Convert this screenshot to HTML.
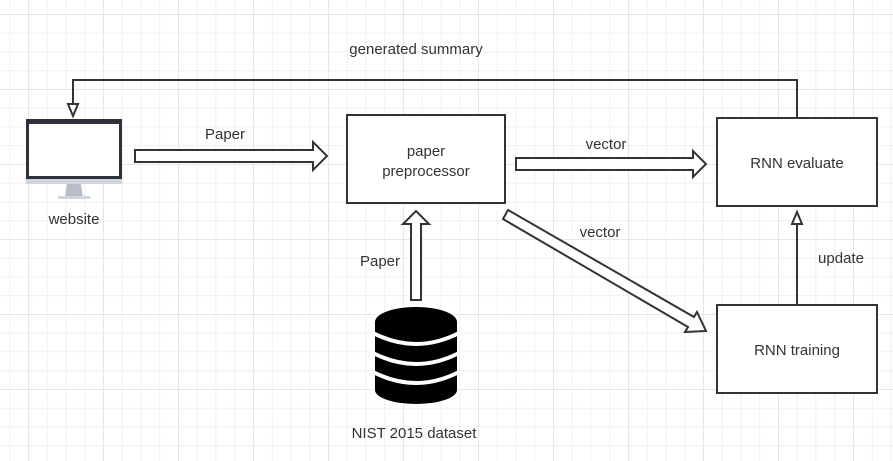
<!DOCTYPE html>
<html><head><style>
body{margin:0;width:893px;height:461px;overflow:hidden;background:#fff;}
svg{display:block;font-family:"Liberation Sans","Noto Sans CJK SC",sans-serif;}
</style></head><body>
<svg width="893" height="461" viewBox="0 0 893 461" xmlns="http://www.w3.org/2000/svg">
<defs>
<pattern id="g" x="9.3" y="14" width="18.75" height="18.75" patternUnits="userSpaceOnUse">
<path d="M0 0V18.75M0 0H18.75" stroke="#ebebeb" stroke-width="1.5" fill="none"/>
</pattern>
<pattern id="G" x="28" y="14" width="75" height="75" patternUnits="userSpaceOnUse">
<path d="M0 0V75M0 0H75" stroke="#e2e2e2" stroke-width="1.5" fill="none"/>
</pattern>
</defs>
<rect width="893" height="461" fill="url(#g)"/>
<rect width="893" height="461" fill="url(#G)"/>
<g fill="#fff" stroke="#333" stroke-width="2">
<rect x="347" y="115" width="158" height="88"/>
<rect x="717" y="118" width="160" height="88"/>
<rect x="717" y="305" width="160" height="88"/>
<path d="M135 150H313V142L327 156L313 170V162H135Z"/>
<path d="M516 158H693V151L706 164L693 177V170H516Z"/>
<path d="M411 300V224H403L416 211L429 224H421V300Z"/>
<path d="M508 210L694 317L697 312L706 331L685 332L688 327L503 219Z"/>
</g>
<g fill="none" stroke="#333" stroke-width="2">
<path d="M797 118V80H73V108"/>
<path d="M797 305V222"/>
</g>
<path d="M68 104H78L73 116Z" fill="#fff" stroke="#333" stroke-width="2"/>
<path d="M792 224H802L797 212Z" fill="#fff" stroke="#333" stroke-width="2"/>
<!-- monitor -->
<rect x="26" y="119" width="96" height="60" fill="#2e3138"/>
<rect x="29" y="124" width="90" height="52" fill="#fff"/>
<rect x="26" y="179" width="96" height="5" fill="#cfd5de"/>
<path d="M67 184H81L83 197H65Z" fill="#b8bec7"/>
<rect x="58" y="196" width="32" height="3" fill="#cfd5de"/>
<!-- database -->
<path d="M375 322A41 15 0 0 1 457 322V390A41 14 0 0 1 375 390Z" fill="#000"/>
<g fill="none" stroke="#fff" stroke-width="4">
<path d="M373 333Q416 355 459 333"/>
<path d="M373 353Q416 375 459 353"/>
<path d="M373 372Q416 394 459 372"/>
</g>
<g fill="#333" font-size="15" text-anchor="middle">
<text x="416" y="54">generated summary</text>
<text x="225" y="139">Paper</text>
<text x="74" y="224">website</text>
<text x="426" y="156">paper</text>
<text x="426" y="176">preprocessor</text>
<text x="606" y="149">vector</text>
<text x="797" y="168">RNN evaluate</text>
<text x="600" y="237">vector</text>
<text x="841" y="263">update</text>
<text x="380" y="266">Paper</text>
<text x="797" y="355">RNN training</text>
<text x="414" y="438">NIST 2015 dataset</text>
</g>
</svg>
</body></html>
